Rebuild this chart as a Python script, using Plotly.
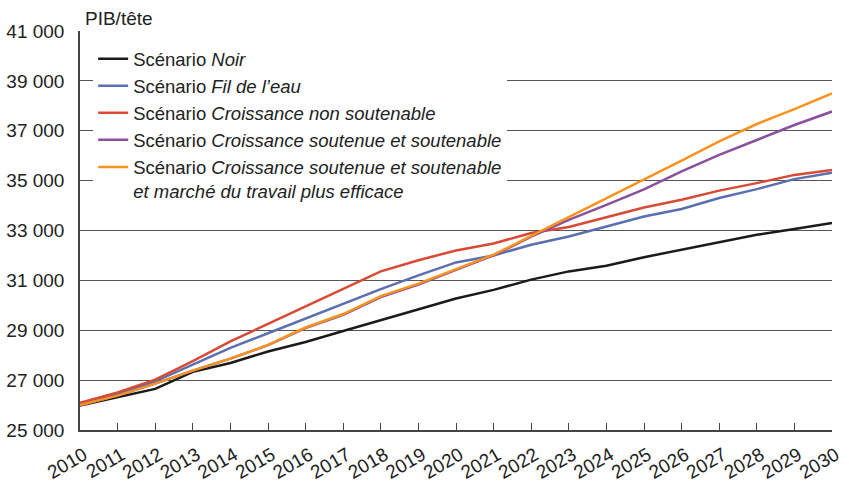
import plotly.graph_objects as go

# years and PIB/tete by scenario
years = [2010, 2011, 2012, 2013, 2014, 2015, 2016, 2017, 2018, 2019, 2020,
         2021, 2022, 2023, 2024, 2025, 2026, 2027, 2028, 2029, 2030]

noir = [25980, 26310, 26650, 27330, 27690, 28150, 28530, 28970, 29400, 29830, 30270,
        30620, 31030, 31360, 31590, 31930, 32230, 32560, 32830, 33060, 33300]
fil_de_leau = [26050, 26450, 26950, 27620, 28290, 28880, 29470, 30060, 30650, 31200, 31720,
               32000, 32430, 32760, 33160, 33560, 33860, 34300, 34660, 35060, 35320]
non_soutenable = [26090, 26510, 27020, 27760, 28550, 29260, 29960, 30670, 31360, 31810, 32200,
                  32480, 32900, 33140, 33540, 33920, 34230, 34600, 34900, 35230, 35430]
soutenue = [26000, 26380, 26860, 27380, 27860, 28400, 29090, 29620, 30330, 30830, 31420,
            32000, 32750, 33430, 34030, 34650, 35370, 36030, 36630, 37230, 37770]
soutenue_marche = [26000, 26380, 26860, 27380, 27860, 28410, 29110, 29650, 30370, 30870, 31450,
                   32030, 32780, 33530, 34280, 35030, 35800, 36570, 37270, 37870, 38500]

y_ticks = [25000, 27000, 29000, 31000, 33000, 35000, 37000, 39000, 41000]
y_labels = ["25 000", "27 000", "29 000", "31 000", "33 000", "35 000", "37 000", "39 000", "41 000"]

series = [
    ("Scénario <i>Noir</i>", noir, "#1a1a1a"),
    ("Scénario <i>Fil de l’eau</i>", fil_de_leau, "#5a6fb0"),
    ("Scénario <i>Croissance non soutenable</i>", non_soutenable, "#d94a35"),
    ("Scénario <i>Croissance soutenue et soutenable</i>", soutenue, "#8a4f9e"),
    ("Scénario <i>Croissance soutenue et soutenable</i><br><i>et marché du travail plus efficace</i>",
     soutenue_marche, "#f7931e"),
]

fig = go.Figure()
for name, vals, col in series:
    fig.add_trace(go.Scatter(x=years, y=vals, mode="lines", name=name,
                             line=dict(color=col, width=2.5)))

fig.update_layout(
    width=849, height=485,
    margin=dict(l=80, r=17, t=31, b=55),
    paper_bgcolor="white", plot_bgcolor="white",
    font=dict(family="Liberation Sans, Arial, sans-serif", size=19, color="#222"),
    showlegend=True,
    legend=dict(x=0.0175, y=0.977, xanchor="left", yanchor="top",
                bgcolor="white", borderwidth=0, itemwidth=30, valign="top",
                font=dict(size=18.5, color="#222"), tracegroupgap=0),
    xaxis=dict(
        range=[2010, 2030], tickmode="array", tickvals=years,
        ticktext=[str(y) for y in years], tickangle=-30, automargin=False,
        ticklabelstandoff=5, ticklabelshift=4,
        ticks="inside", ticklen=7, tickcolor="#444", tickwidth=1.2,
        showline=True, linecolor="#444", linewidth=1.5,
        showgrid=False, zeroline=False,
    ),
    yaxis=dict(
        range=[25000, 41000], tickmode="array", tickvals=y_ticks, ticktext=y_labels,
        ticks="", ticklabelstandoff=10, automargin=False,
        showline=True, linecolor="#444", linewidth=1.5,
        showgrid=True, gridcolor="#555", gridwidth=1, zeroline=False,
    ),
    annotations=[dict(text="PIB/tête", xref="paper", yref="paper", x=0.004, y=1.0,
                      xanchor="left", yanchor="bottom", yshift=0, showarrow=False,
                      font=dict(size=19, color="#222"))],
)

# page body has a default 8px margin, drop it so the figure sits at 0,0
fig.write_html("out.html", config={"displayModeBar": False},
               post_script="document.body.style.margin='0';")
